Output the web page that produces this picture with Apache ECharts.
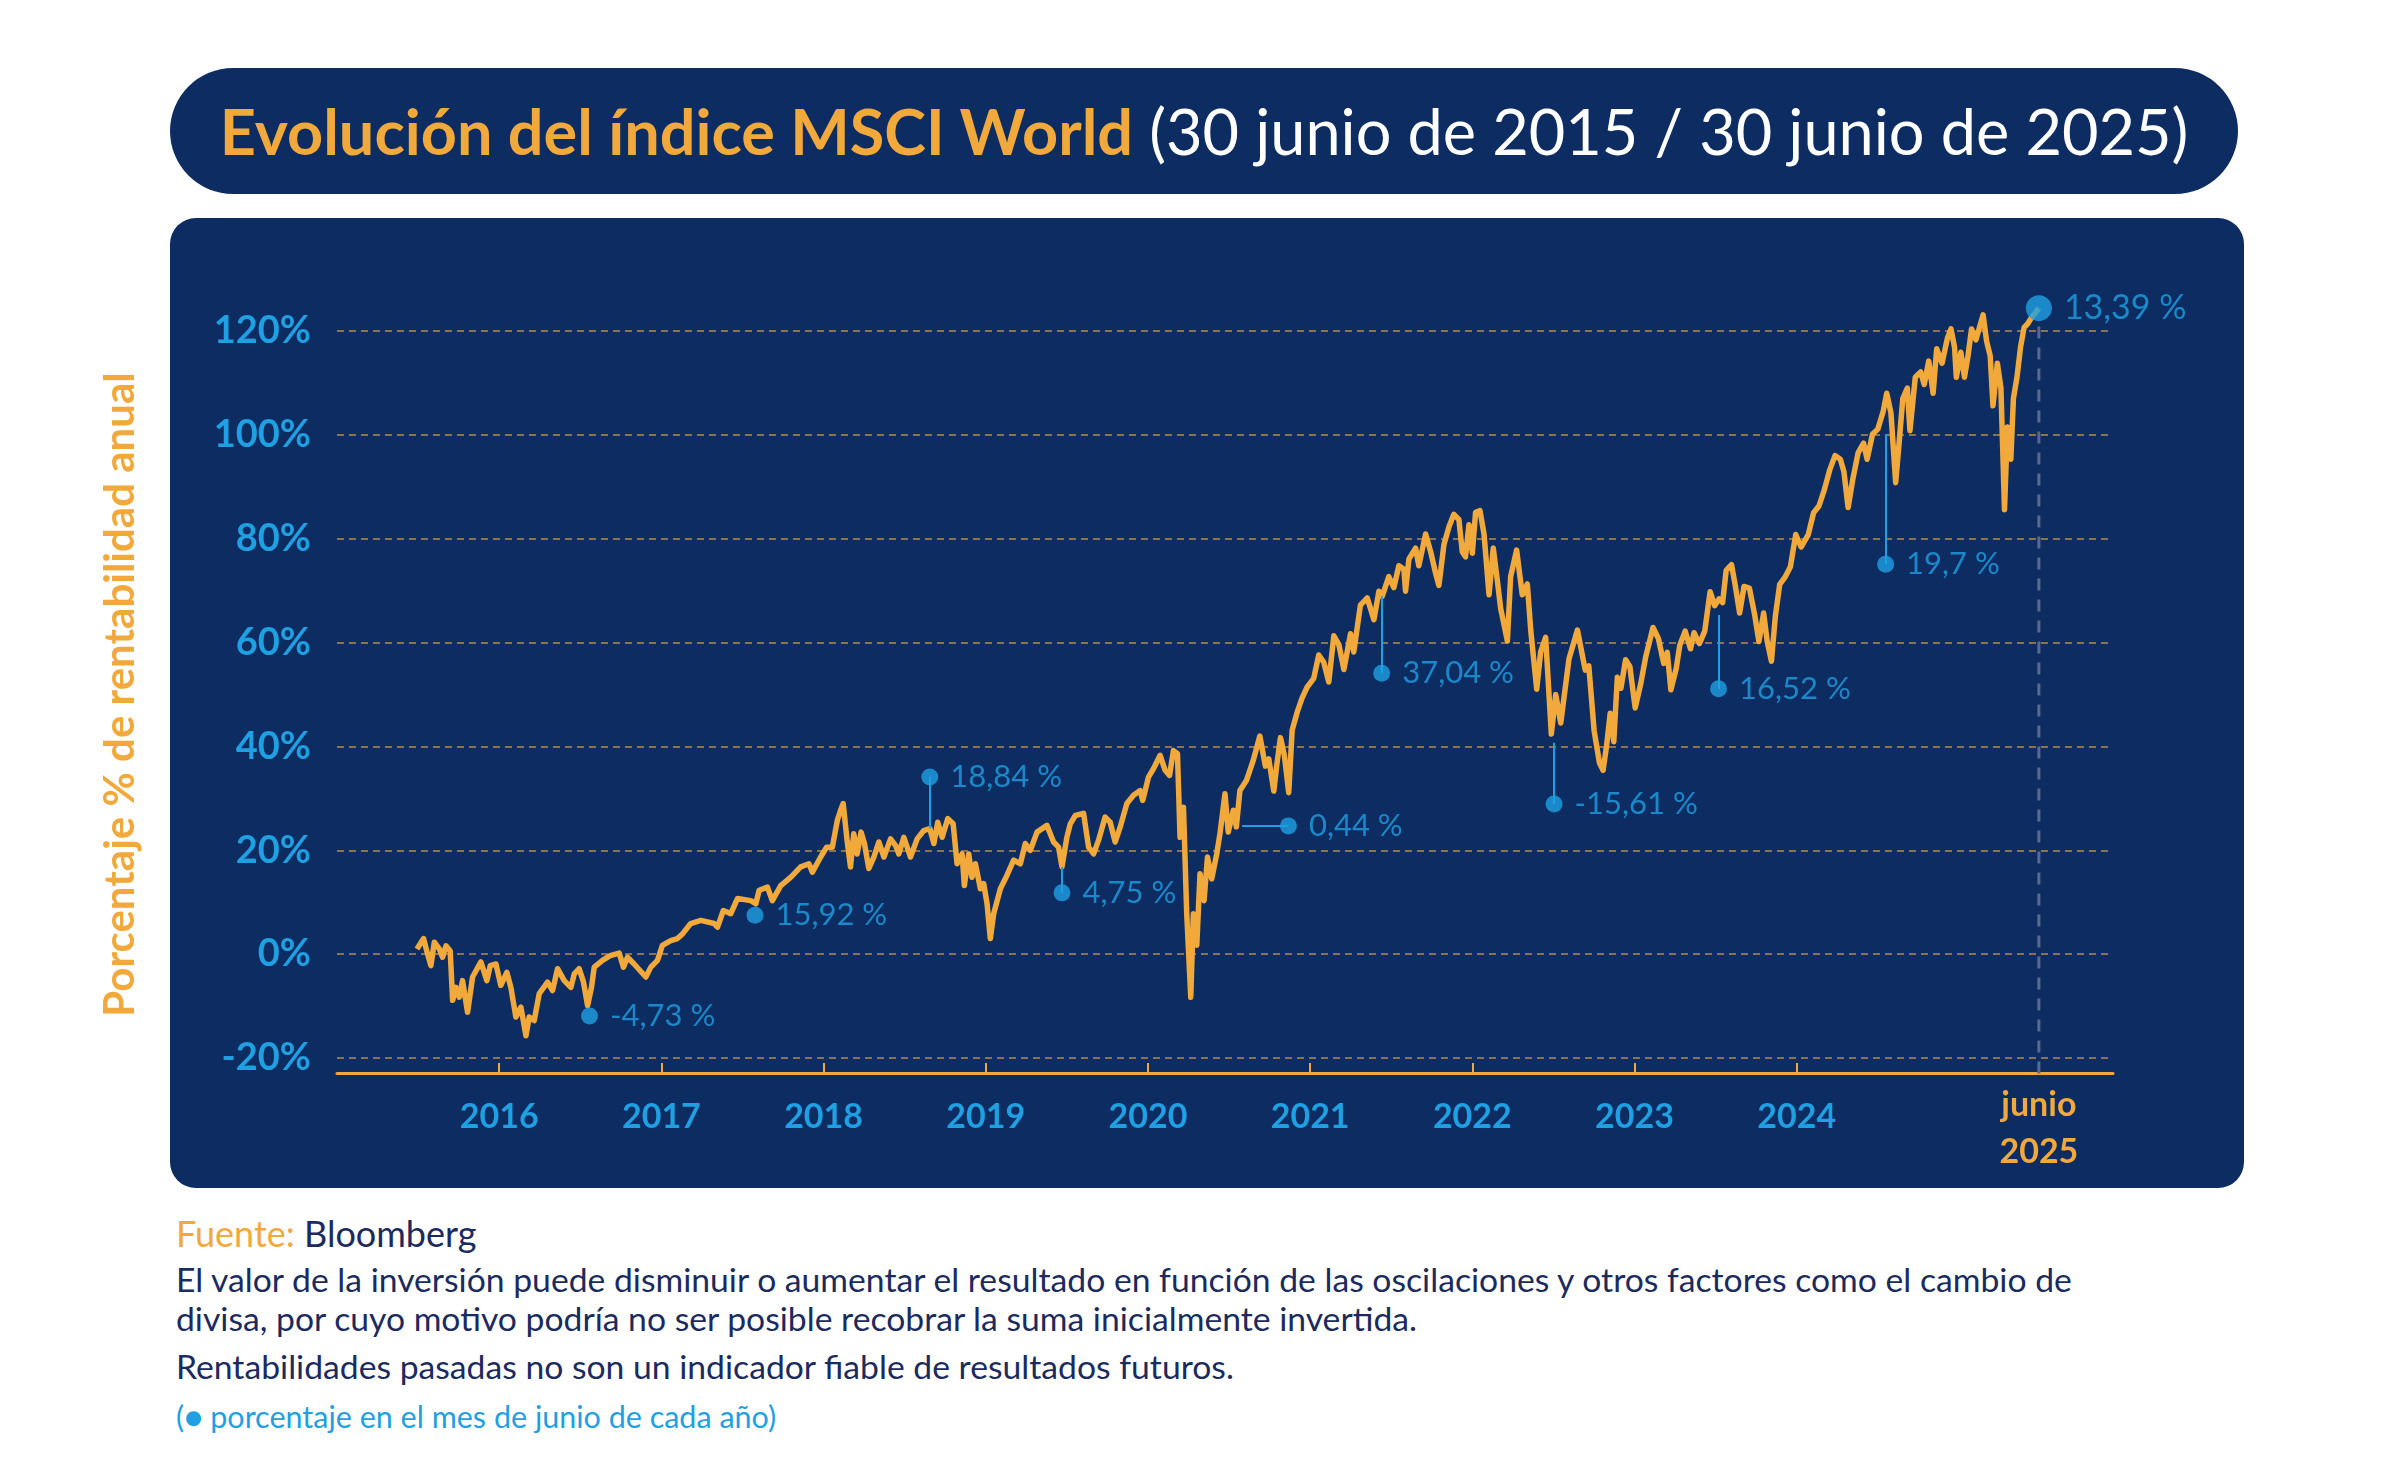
<!DOCTYPE html>
<html>
<head>
<meta charset="utf-8">
<title>Evolución del índice MSCI World</title>
<script src="https://cdn.jsdelivr.net/npm/echarts@6.0.0/dist/echarts.min.js"></script>
<style>
    html, body { margin: 0; padding: 0; background: #ffffff; }
    body { width: 2401px; height: 1465px; position: relative; overflow: hidden; font-family: Lato, "Noto Sans", sans-serif; }
    .pill { position: absolute; left: 170px; top: 68px; width: 2068px; height: 126px; border-radius: 63px; background: #0c2c62;
            text-align: center; line-height: 126px; font-size: 63px; color: #ffffff; white-space: nowrap; }
    .pill b { color: #f2a93b; font-weight: 700; }
    .panel { position: absolute; left: 170px; top: 218px; width: 2074px; height: 970px; border-radius: 26px; background: #0c2c62; }
    .nota { position: absolute; left: 176px; white-space: nowrap; color: #1b2b5e; }
    #grafico { position: absolute; left: 0; top: 0; width: 2401px; height: 1465px; }
</style>
</head>
<body>
<div class="pill"><b>Evolución del índice MSCI World</b> (30 junio de 2015 / 30 junio de 2025)</div>
<div class="panel"></div>
<div class="nota" style="top:1215px;font-size:36px;line-height:36px;"><span style="color:#f2a93b">Fuente:</span> Bloomberg</div>
<div class="nota" style="top:1260px;font-size:33.7px;line-height:39px;">El valor de la inversión puede disminuir o aumentar el resultado en función de las oscilaciones y otros factores como el cambio de<br>divisa, por cuyo motivo podría no ser posible recobrar la suma inicialmente invertida.</div>
<div class="nota" style="top:1347px;font-size:33.7px;line-height:39px;">Rentabilidades pasadas no son un indicador fiable de resultados futuros.</div>
<div class="nota" style="top:1400px;font-size:30.5px;line-height:33px;color:#1fa0e3;">(● porcentaje en el mes de junio de cada año)</div>
<div id="grafico"></div>
<script>
    // fecha en años decimales (30/06/2015 = 2015.493) y rentabilidad acumulada en %
    var anios = [
        2015.493, 2015.534, 2015.555, 2015.579, 2015.600, 2015.631, 2015.651, 2015.672, 2015.698, 2015.713,
        2015.733, 2015.754, 2015.774, 2015.805, 2015.836, 2015.887, 2015.924, 2015.945, 2015.980, 2016.010,
        2016.047, 2016.072, 2016.103, 2016.134, 2016.165, 2016.185, 2016.216, 2016.247, 2016.298, 2016.329,
        2016.360, 2016.401, 2016.442, 2016.463, 2016.493, 2016.520, 2016.545, 2016.569, 2016.586, 2016.637,
        2016.684, 2016.740, 2016.766, 2016.791, 2016.832, 2016.904, 2016.935, 2016.976, 2017.006, 2017.058,
        2017.099, 2017.130, 2017.181, 2017.243, 2017.325, 2017.346, 2017.382, 2017.428, 2017.469, 2017.551,
        2017.582, 2017.603, 2017.654, 2017.684, 2017.736, 2017.797, 2017.859, 2017.910, 2017.931, 2017.982,
        2018.019, 2018.054, 2018.085, 2018.105, 2018.121, 2018.145, 2018.166, 2018.186, 2018.207, 2018.231,
        2018.252, 2018.279, 2018.310, 2018.341, 2018.372, 2018.413, 2018.444, 2018.464, 2018.495, 2018.536,
        2018.577, 2018.618, 2018.655, 2018.680, 2018.704, 2018.731, 2018.766, 2018.799, 2018.823, 2018.854,
        2018.868, 2018.895, 2018.915, 2018.936, 2018.967, 2018.987, 2019.008, 2019.028, 2019.049, 2019.090,
        2019.131, 2019.172, 2019.213, 2019.244, 2019.275, 2019.316, 2019.377, 2019.418, 2019.449, 2019.470,
        2019.500, 2019.521, 2019.552, 2019.603, 2019.634, 2019.665, 2019.695, 2019.736, 2019.767, 2019.798,
        2019.829, 2019.870, 2019.911, 2019.952, 2019.968, 2020.003, 2020.034, 2020.075, 2020.106, 2020.133,
        2020.157, 2020.182, 2020.198, 2020.219, 2020.239, 2020.264, 2020.280, 2020.301, 2020.321, 2020.346,
        2020.367, 2020.393, 2020.424, 2020.444, 2020.475, 2020.495, 2020.526, 2020.545, 2020.567, 2020.608,
        2020.649, 2020.690, 2020.724, 2020.745, 2020.776, 2020.796, 2020.817, 2020.841, 2020.868, 2020.889,
        2020.920, 2020.950, 2020.981, 2021.022, 2021.053, 2021.084, 2021.115, 2021.146, 2021.177, 2021.208,
        2021.249, 2021.269, 2021.310, 2021.352, 2021.393, 2021.424, 2021.444, 2021.485, 2021.516, 2021.547,
        2021.578, 2021.588, 2021.609, 2021.650, 2021.670, 2021.712, 2021.743, 2021.773, 2021.794, 2021.825,
        2021.856, 2021.886, 2021.917, 2021.938, 2021.958, 2021.979, 2022.000, 2022.020, 2022.047, 2022.072,
        2022.103, 2022.129, 2022.154, 2022.175, 2022.216, 2022.236, 2022.273, 2022.308, 2022.339, 2022.360,
        2022.397, 2022.421, 2022.452, 2022.487, 2022.514, 2022.545, 2022.596, 2022.648, 2022.696, 2022.718,
        2022.751, 2022.784, 2022.806, 2022.828, 2022.850, 2022.872, 2022.894, 2022.916, 2022.945, 2022.971,
        2023.004, 2023.037, 2023.070, 2023.114, 2023.147, 2023.180, 2023.202, 2023.224, 2023.257, 2023.279,
        2023.312, 2023.345, 2023.367, 2023.400, 2023.433, 2023.466, 2023.494, 2023.521, 2023.543, 2023.565,
        2023.598, 2023.620, 2023.648, 2023.675, 2023.708, 2023.741, 2023.767, 2023.796, 2023.818, 2023.844,
        2023.868, 2023.895, 2023.928, 2023.961, 2023.994, 2024.027, 2024.071, 2024.104, 2024.137, 2024.170,
        2024.203, 2024.236, 2024.269, 2024.291, 2024.317, 2024.346, 2024.379, 2024.412, 2024.434, 2024.467,
        2024.500, 2024.533, 2024.555, 2024.581, 2024.610, 2024.632, 2024.654, 2024.682, 2024.698, 2024.731,
        2024.764, 2024.786, 2024.814, 2024.841, 2024.863, 2024.896, 2024.929, 2024.951, 2024.973, 2024.984,
        2025.012, 2025.034, 2025.056, 2025.078, 2025.105, 2025.127, 2025.149, 2025.171, 2025.193, 2025.210,
        2025.237, 2025.259, 2025.281, 2025.299, 2025.320, 2025.336, 2025.358, 2025.380, 2025.402, 2025.424,
        2025.446, 2025.493
    ];
    var rentab = [
        1.0, 3.0, 0.4, -2.2, 2.3, 1.0, -0.6, 1.6, 0.6, -8.9,
        -6.4, -8.3, -5.1, -11.2, -4.4, -1.5, -5.1, -2.2, -1.9, -6.0,
        -3.5, -6.4, -12.1, -10.2, -15.7, -12.1, -12.8, -7.6, -5.4, -7.0,
        -2.8, -5.1, -6.4, -3.8, -2.8, -5.4, -9.9, -6.4, -2.5, -1.2,
        -0.3, 0.2, -2.5, -0.6, -1.9, -4.4, -2.5, -1.2, 1.7, 2.6,
        3.0, 3.9, 5.9, 6.5, 5.9, 5.2, 8.4, 7.8, 10.7, 10.3,
        9.7, 12.3, 12.9, 10.3, 13.2, 14.8, 16.8, 17.4, 15.8, 18.7,
        20.6, 20.6, 25.8, 27.7, 29.0, 21.9, 16.8, 23.2, 19.3, 23.5,
        21.3, 16.5, 18.7, 21.6, 18.7, 22.2, 20.9, 19.3, 22.5, 18.7,
        22.2, 23.8, 24.2, 21.3, 25.4, 22.5, 26.1, 25.1, 17.4, 19.3,
        13.2, 19.3, 14.8, 17.4, 12.6, 13.6, 9.7, 3.0, 7.8, 12.6,
        15.2, 18.1, 17.4, 21.3, 20.0, 23.5, 24.8, 21.6, 20.6, 16.8,
        22.5, 25.1, 26.7, 27.1, 20.6, 19.3, 21.9, 26.4, 25.4, 21.6,
        24.5, 29.0, 30.6, 31.5, 29.6, 34.1, 35.7, 38.3, 35.4, 34.4,
        39.2, 38.6, 22.5, 28.3, 7.8, -8.3, 7.8, 1.7, 15.5, 10.3,
        18.7, 14.5, 19.3, 23.2, 30.9, 23.5, 27.7, 24.5, 31.5, 33.5,
        37.3, 42.0, 36.2, 37.6, 31.4, 36.9, 41.7, 38.3, 31.1, 43.1,
        46.6, 49.3, 51.4, 53.1, 57.6, 56.2, 52.4, 61.3, 59.6, 54.8,
        61.7, 58.2, 67.2, 68.6, 64.4, 69.9, 68.9, 72.7, 70.6, 74.8,
        74.1, 69.9, 76.1, 78.2, 74.8, 80.9, 77.5, 73.4, 71.0, 78.9,
        82.3, 84.7, 83.7, 77.5, 76.5, 82.7, 77.2, 85.1, 85.4, 80.9,
        69.2, 78.2, 72.0, 66.5, 60.3, 72.7, 77.8, 69.2, 71.3, 62.4,
        51.0, 58.2, 61.0, 42.4, 50.0, 44.5, 56.9, 62.4, 54.7, 55.5,
        43.0, 36.8, 35.4, 40.2, 46.4, 40.9, 53.3, 51.2, 56.7, 55.4,
        47.4, 51.9, 57.4, 62.9, 60.8, 56.0, 58.1, 50.9, 55.0, 59.5,
        62.2, 58.8, 61.9, 59.8, 62.2, 69.8, 67.1, 68.4, 67.7, 73.9,
        75.0, 71.2, 65.7, 70.8, 70.5, 65.3, 60.2, 65.7, 60.2, 56.4,
        65.0, 71.2, 72.6, 74.6, 80.8, 78.4, 80.8, 85.0, 86.3, 89.4,
        93.2, 96.0, 95.3, 92.9, 86.0, 91.5, 96.6, 98.4, 95.3, 100.1,
        101.1, 104.5, 108.0, 104.2, 90.8, 98.7, 107.0, 109.0, 100.8, 111.1,
        112.1, 109.7, 114.2, 108.0, 116.6, 113.8, 118.6, 120.4, 116.9, 111.1,
        115.9, 111.1, 115.2, 120.4, 118.3, 120.7, 123.1, 118.0, 115.2, 105.6,
        113.8, 109.0, 85.6, 101.5, 95.3, 107.0, 111.1, 116.9, 120.7, 121.4,
        122.5, 124.4
    ];

    // rentabilidad anual (junio de cada año): posición del punto y extremo de la guía
    var anualTexto = ['-4,73 %', '15,92 %', '18,84 %', '4,75 %', '0,44 %', '37,04 %', '-15,61 %', '16,52 %', '19,7 %'];
    var anualT = [2016.557, 2017.577, 2018.655, 2019.470, 2020.866, 2021.441, 2022.504, 2023.518, 2024.548];
    var anualV = [-11.9, 7.5, 34.1, 11.8, 24.7, 54.1, 28.9, 51.1, 75.1];
    var guiaT = [2016.557, 2017.577, 2018.655, 2019.470, 2020.580, 2021.441, 2022.504, 2023.518, 2024.548];
    var guiaV = [-11.9, 7.5, 24.2, 16.8, 24.7, 68.9, 40.7, 65.3, 100.1];

    var finalTexto = '13,39 %';
    var finalT = 2025.493;

    var ejeAnios = [2016, 2017, 2018, 2019, 2020, 2021, 2022, 2023, 2024, 2025.493];
    var ejeY = [-20, 0, 20, 40, 60, 80, 100, 120];

    var NARANJA = '#f2a93b';
    var AZUL = '#1fa0e3';

    var serie = anios.map(function (t, i) { return [t, rentab[i]]; });
    var puntos = anualT.map(function (t, i) { return [t, anualV[i]]; });
    var guias = anualT.map(function (t, i) {
        return { coords: [[t, anualV[i]], [guiaT[i], guiaV[i]]] };
    });

    var chart = echarts.init(document.getElementById('grafico'), null, { renderer: 'canvas' });
    var option = {
        animation: false,
        backgroundColor: 'transparent',
        textStyle: { fontFamily: 'Lato' },
        grid: { left: 337, right: 288, top: 331, bottom: 407 },
        xAxis: {
            type: 'value',
            min: 2015,
            max: 2025.95,
            offset: 15,
            axisLine: { onZero: false, lineStyle: { color: NARANJA, width: 3 } },
            axisTick: {
                inside: true, length: 10,
                customValues: ejeAnios.slice(0, 9),
                lineStyle: { color: NARANJA, width: 2 }
            },
            splitLine: { show: false },
            axisLabel: {
                customValues: ejeAnios,
                margin: 9,
                color: AZUL,
                fontSize: 34,
                fontWeight: 'bold',
                lineHeight: 71,
                formatter: function (v) {
                    if (v > 2025) return '{j|junio}\n{j|2025}';
                    return String(Math.round(v));
                },
                rich: { j: { color: NARANJA, fontSize: 34, fontWeight: 'bold', lineHeight: 47, fontFamily: 'Lato' } }
            }
        },
        yAxis: {
            type: 'value',
            min: ejeY[0],
            max: ejeY[ejeY.length - 1],
            interval: 20,
            name: 'Porcentaje % de rentabilidad anual',
            nameLocation: 'middle',
            nameRotate: 90,
            nameGap: 196,
            nameTextStyle: { color: NARANJA, fontSize: 42, fontWeight: 'bold', fontFamily: 'Lato' },
            axisLine: { show: false },
            axisTick: { show: false },
            axisLabel: { formatter: '{value}%', color: AZUL, fontSize: 38, fontWeight: 'bold', margin: 26 },
            splitLine: { lineStyle: { color: 'rgba(242,169,59,0.75)', width: 1.5, type: [7, 5] } }
        },
        series: [
            {
                // línea vertical junio 2025
                type: 'line',
                data: [[finalT, -23], [finalT, 121]],
                symbol: 'none',
                clip: false,
                silent: true,
                z: 1,
                lineStyle: { color: '#5b6a8a', width: 3, type: [12, 9] }
            },
            {
                type: 'line',
                data: serie,
                symbol: 'none',
                clip: false,
                z: 3,
                lineStyle: { color: NARANJA, width: 5.5, join: 'round' }
            },
            {
                type: 'lines',
                coordinateSystem: 'cartesian2d',
                data: guias,
                z: 4,
                lineStyle: { color: AZUL, width: 2, opacity: 1 }
            },
            {
                type: 'scatter',
                data: puntos,
                symbolSize: 17,
                clip: false,
                z: 5,
                itemStyle: { color: AZUL },
                label: {
                    show: true,
                    position: 'right',
                    distance: 12,
                    color: AZUL,
                    fontSize: 31,
                    fontFamily: 'Lato',
                    formatter: function (p) { return anualTexto[p.dataIndex]; }
                }
            },
            {
                type: 'scatter',
                data: [[finalT, rentab[rentab.length - 1]]],
                symbolSize: 26,
                clip: false,
                z: 6,
                itemStyle: { color: AZUL },
                label: {
                    show: true,
                    position: 'right',
                    distance: 12,
                    color: AZUL,
                    fontSize: 34,
                    fontFamily: 'Lato',
                    formatter: finalTexto
                }
            }
        ]
    };
    chart.setOption(option);
</script>
</body>
</html>
